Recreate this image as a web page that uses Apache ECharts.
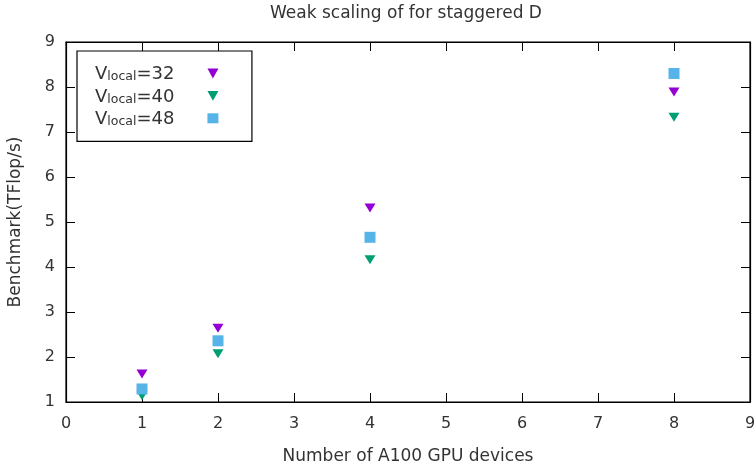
<!DOCTYPE html>
<html><head><meta charset="utf-8">
<script src="https://cdn.jsdelivr.net/npm/echarts@6/dist/echarts.min.js"></script>
<style>html,body{margin:0;padding:0;background:#fff}#c{width:756px;height:466px}</style>
</head><body><div id="c"></div>
<script>
const xTicks = [0,1,2,3,4,5,6,7,8,9];
const devices = [1, 2, 4, 8];
const v32 = [1.62, 2.64, 5.31, 7.89];
const v40 = [1.14, 2.07, 4.16, 7.33];
const v48 = [1.29, 2.36, 4.66, 8.30];
const seriesNames = ['32', '40', '48'];
const colors = ['#9400d3', '#009e73', '#56b4e9'];

const FONT = 'DejaVu Sans';
const TXT = '#333';
const chart = echarts.init(document.getElementById('c'), null, {renderer: 'canvas'});
const pair = (xs, ys) => xs.map((x, i) => [x, ys[i]]);
const axisCommon = {
  type: 'value', axisLine: {show: true, onZero: false, lineStyle: {color: '#000', width: 1.2}},
  axisTick: {show: true, inside: true, length: 9, lineStyle: {color: '#000', width: 1}},
  splitLine: {show: false}
};
chart.setOption({
  animation: false,
  title: {text: 'Weak scaling of for staggered D', left: 401, top: 0, textAlign: 'center',
    textStyle: {fontFamily: FONT, fontSize: 17, fontWeight: 'normal', color: TXT}},
  grid: {left: 66, right: 6, top: 42, bottom: 64, show: true, borderColor: '#000', borderWidth: 1.2,
    outerBoundsMode: 'none', containLabel: false},
  legend: {
    left: 77, top: 51, orient: 'vertical', align: 'right',
    padding: [14.5, 33.5, 13, 18], itemGap: 4.4, itemWidth: 11, itemHeight: 10,
    borderColor: '#000', borderWidth: 1.2, backgroundColor: '#fff',
    data: [
      {name: seriesNames[0], icon: 'path://M0,0 L10,0 L5,9 Z'},
      {name: seriesNames[1], icon: 'path://M0,0 L10,0 L5,9 Z'},
      {name: seriesNames[2], icon: 'rect'}
    ],
    formatter: n => '{v|V}{s|local}{v|=' + n + '}{g|}',
    textStyle: {fontFamily: FONT, color: TXT,
      rich: {
        v: {fontFamily: FONT, fontSize: 18, color: TXT, verticalAlign: 'bottom', lineHeight: 20},
        s: {fontFamily: FONT, fontSize: 12.5, color: TXT, verticalAlign: 'bottom', lineHeight: 6},
        g: {width: 28, lineHeight: 20}
      }}
  },
  xAxis: [
    Object.assign({}, axisCommon, {min: 0, max: 9, interval: 1, position: 'bottom',
      name: 'Number of A100 GPU devices', nameLocation: 'middle', nameGap: 46,
      nameTextStyle: {fontFamily: FONT, fontSize: 17, color: TXT},
      axisLabel: {fontFamily: FONT, fontSize: 16, color: TXT, margin: 14,
        formatter: v => xTicks.includes(v) ? String(v) : ''}}),
    Object.assign({}, axisCommon, {min: 0, max: 9, interval: 1, position: 'top', axisLabel: {show: false}})
  ],
  yAxis: [
    Object.assign({}, axisCommon, {min: 1, max: 9, interval: 1, position: 'left',
      name: 'Benchmark(TFlop/s)', nameLocation: 'middle', nameGap: 42,
      nameTextStyle: {fontFamily: FONT, fontSize: 17, color: TXT},
      axisLabel: {fontFamily: FONT, fontSize: 16, color: TXT, margin: 11}}),
    Object.assign({}, axisCommon, {min: 1, max: 9, interval: 1, position: 'right', axisLabel: {show: false}})
  ],
  series: [
    {name: seriesNames[0], type: 'scatter', data: pair(devices, v32), symbol: 'triangle', symbolRotate: 180,
      symbolSize: [11, 9], itemStyle: {color: colors[0], opacity: 1}},
    {name: seriesNames[1], type: 'scatter', data: pair(devices, v40), symbol: 'triangle', symbolRotate: 180,
      symbolSize: [11, 9], itemStyle: {color: colors[1], opacity: 1}},
    {name: seriesNames[2], type: 'scatter', data: pair(devices, v48), symbol: 'rect',
      symbolSize: [11, 11], itemStyle: {color: colors[2], opacity: 1}}
  ]
});
</script></body></html>
